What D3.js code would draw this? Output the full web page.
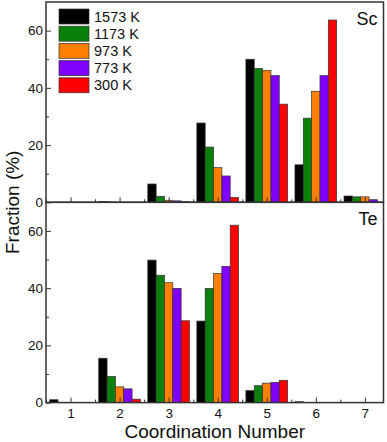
<!DOCTYPE html>
<html>
<head>
<meta charset="utf-8">
<script src="https://cdn.jsdelivr.net/npm/d3@7"></script>
<style>
  body { margin: 0; background: #fff; }
  text { font-family: "Liberation Sans", Arial, sans-serif; fill: #111; }
</style>
</head>
<body>
<svg id="chart" width="387" height="442"></svg>
<script>
// coordination numbers and temperatures
var categories = [1, 2, 3, 4, 5, 6, 7];
var temps = ["1573 K", "1173 K", "973 K", "773 K", "300 K"];
var colors = ["#000000", "#0a800a", "#ff8000", "#8000ff", "#ff0000"];
var yTicks = [0, 20, 40, 60];

// Sc fractions (%), one array per temperature
var sc1573 = [0.0, 0.3, 6.4, 27.7, 50.0, 13.1, 2.2];
var sc1173 = [0.0, 0.1, 2.1, 19.3, 46.8, 29.4, 1.9];
var sc973  = [0.0, 0.0, 0.7, 12.1, 46.1, 38.8, 1.9];
var sc773  = [0.0, 0.0, 0.5, 9.2, 44.3, 44.3, 0.9];
var sc300  = [0.0, 0.0, 0.2, 1.7, 34.3, 63.7, 0.0];

// Te fractions (%)
var te1573 = [1.0, 15.5, 49.8, 28.5, 4.2, 0.3, 0.0];
var te1173 = [0.1, 9.1, 44.5, 39.9, 5.9, 0.0, 0.0];
var te973  = [0.0, 5.5, 41.9, 45.1, 6.8, 0.0, 0.0];
var te773  = [0.0, 4.8, 39.9, 47.6, 7.1, 0.0, 0.0];
var te300  = [0.0, 1.2, 28.6, 62.0, 7.8, 0.0, 0.0];

var panels = [
  { name: "Sc", series: [sc1573, sc1173, sc973, sc773, sc300] },
  { name: "Te", series: [te1573, te1173, te973, te773, te300] }
];

var svg = d3.select("#chart");
var plotL = 46, plotR = 383.5, plotT = 2, panelH = 200.3;

var x = d3.scaleLinear().domain([0.5, 7.38]).range([plotL, plotR]);
var unit = x(2) - x(1);
var inner = d3.scaleBand().domain(d3.range(temps.length))
  .range([-unit * 0.425, unit * 0.425]).padding(0);
var halfTicks = [0.5, 1.5, 2.5, 3.5, 4.5, 5.5, 6.5];

panels.forEach(function(p, pi) {
  var y0 = plotT + pi * panelH;
  var y = d3.scaleLinear().domain([0, 70]).range([y0 + panelH, y0]);
  var g = svg.append("g");

  // bars
  p.series.forEach(function(vals, si) {
    g.selectAll(null).data(vals).enter().append("rect")
      .attr("x", function(d, i) { return x(categories[i]) + inner(si); })
      .attr("y", function(d) { return y(d); })
      .attr("width", inner.bandwidth())
      .attr("height", function(d) { return y(0) - y(d); })
      .attr("fill", colors[si])
      .attr("stroke", "#333")
      .attr("stroke-width", 0.7);
  });

  // y axis, inner ticks
  var yMin = g.append("g").attr("transform", "translate(" + plotL + ",0)")
    .call(d3.axisLeft(y).tickValues([10, 30, 50]).tickSize(-3).tickFormat(""));
  yMin.select(".domain").remove();
  var yMaj = g.append("g").attr("transform", "translate(" + plotL + ",0)")
    .call(d3.axisLeft(y).tickValues(yTicks).tickSize(-5).tickPadding(8));
  yMaj.select(".domain").remove();
  yMaj.selectAll("text").attr("font-size", 13.5).attr("x", -3);

  // x axis ticks, pointing up
  var xMin = g.append("g").attr("transform", "translate(0," + y(0) + ")")
    .call(d3.axisTop(x).tickValues(halfTicks).tickSize(3).tickFormat(""));
  xMin.select(".domain").remove();
  var xMaj = g.append("g").attr("transform", "translate(0," + y(0) + ")")
    .call(d3.axisTop(x).tickValues(categories).tickSize(5).tickFormat(""));
  xMaj.select(".domain").remove();
  if (pi === 1) {
    var xLab = g.append("g").attr("transform", "translate(0," + y(0) + ")")
      .call(d3.axisBottom(x).tickValues(categories).tickSize(0).tickPadding(6).tickFormat(d3.format("d")));
    xLab.select(".domain").remove();
    xLab.selectAll("text").attr("font-size", 13.5);
  }

  g.selectAll(".tick line").attr("stroke", "#333");

  // frame
  g.append("rect").attr("x", plotL).attr("y", y0)
    .attr("width", plotR - plotL).attr("height", panelH)
    .attr("fill", "none").attr("stroke", "#333").attr("stroke-width", 1.5);

  g.append("text").attr("x", plotR - 6).attr("y", y0 + 23)
    .attr("text-anchor", "end").attr("font-size", 18).text(p.name);
});

// legend
var lg = svg.append("g").attr("transform", "translate(59,9)");
temps.forEach(function(t, i) {
  lg.append("rect").attr("x", 0).attr("y", i * 17.2).attr("width", 30).attr("height", 15)
    .attr("fill", colors[i]).attr("stroke", "#333").attr("stroke-width", 0.7);
  lg.append("text").attr("x", 35).attr("y", i * 17.2 + 12.5)
    .attr("font-size", 14.5).text(t);
});

// axis titles
svg.append("text").attr("transform", "translate(19," + (plotT + panelH) + ") rotate(-90)")
  .attr("text-anchor", "middle").attr("font-size", 19).text("Fraction (%)");
svg.append("text").attr("x", (plotL + plotR) / 2).attr("y", 438)
  .attr("text-anchor", "middle").attr("font-size", 19).text("Coordination Number");
</script>
</body>
</html>
